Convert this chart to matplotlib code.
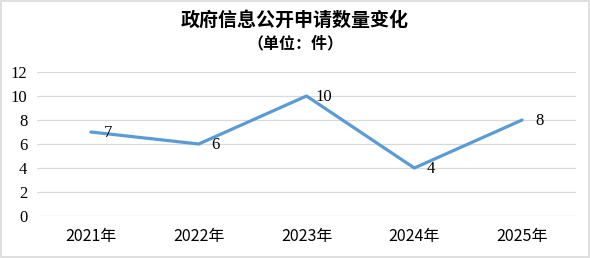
import matplotlib
matplotlib.use("Agg")
import matplotlib.pyplot as plt
from matplotlib.patches import Rectangle

years = ["2021年", "2022年", "2023年", "2024年", "2025年"]
values = [7, 6, 10, 4, 8]
yticks = [0, 2, 4, 6, 8, 10, 12]

fig = plt.figure(figsize=(5.9, 2.58), dpi=100)
ax = fig.add_axes([37/590, 1-216/258, (576-37)/590, (216-72)/258])

x = list(range(len(years)))
ax.plot(x, values, color="#5b9bd5", linewidth=2.3, solid_capstyle="round", zorder=3)
for xi, v in zip(x, values):
    ax.annotate(str(v), (xi, v), xytext=(17, -1), textcoords="offset pixels",
                ha="center", va="center", fontsize=12, family="Liberation Serif",
                color="black", zorder=4)

ax.set_xlim(-0.5, len(years) - 0.5)
ax.set_ylim(0, 12)
ax.set_yticks(yticks)
ax.set_yticklabels([str(t) for t in yticks], family="Liberation Serif", fontsize=12)
ax.set_xticks(x)
ax.set_xticklabels(years, family=["Noto Sans CJK SC", "DejaVu Sans"], fontsize=11.5)
ax.tick_params(length=0)
ax.tick_params(axis="y", pad=7)
ax.tick_params(axis="x", pad=9)
ax.grid(axis="y", color="#d9d9d9", linewidth=0.9)
ax.set_axisbelow(True)
for s in ax.spines.values():
    s.set_visible(False)

fig.text(0.5, 1-20/258, "政府信息公开申请数量变化", ha="center", va="center",
         fontsize=13.7, fontweight="bold", family=["Noto Sans CJK SC", "DejaVu Sans"])
fig.text(0.5, 1-43/258, "（单位：件）", ha="center", va="center",
         fontsize=11.5, fontweight="bold", family=["Noto Sans CJK SC", "DejaVu Sans"])

fig.patches.append(Rectangle((0.001, 0.002), 0.997, 0.995, transform=fig.transFigure,
                             fill=False, edgecolor="#d9d9d9", linewidth=1.2))

fig.savefig("out.png", dpi=100)
